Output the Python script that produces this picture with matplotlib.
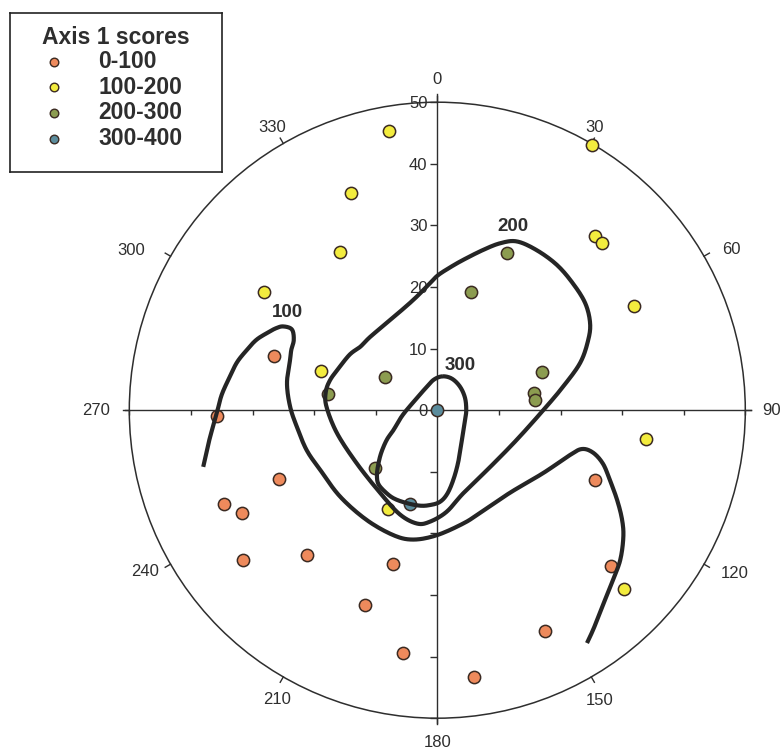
import numpy as np
import matplotlib
matplotlib.use('Agg')
import matplotlib.pyplot as plt
from matplotlib.patches import Circle

plt.rcParams['font.family'] = ['Liberation Sans', 'DejaVu Sans']

# ---------------- data ----------------
categories = ['0-100', '100-200', '200-300', '300-400']
legend_title = 'Axis 1 scores'
colors = ['#ee8a5c', '#f3ec3e', '#8c9c50', '#5b8c9c']

# polar coordinates: angle (degrees, clockwise from north), radius
theta_0_100 = [268.4, 288.4, 246.4, 246.3, 242.2, 232.3, 222.0, 200.3, 196.0, 188.1,
               172.2, 154.0, 113.9, 131.9]
r_0_100 = [35.8, 28.0, 28.0, 37.8, 35.8, 39.8, 31.7, 33.8, 25.9, 39.8,
           43.7, 39.8, 28.0, 37.9]
theta_100_200 = [350.2, 338.3, 328.3, 304.3, 288.6, 206.6, 30.2, 42.2, 44.5, 62.2, 97.9, 133.8]
r_100_200 = [46.0, 38.0, 30.1, 34.0, 20.0, 18.0, 49.8, 38.1, 38.1, 36.1, 34.2, 41.9]
theta_200_300 = [23.8, 15.9, 302.6, 278.4, 69.8, 79.7, 84.0, 227.0]
r_200_300 = [27.9, 20.0, 10.1, 18.0, 18.1, 16.0, 15.9, 13.8]
theta_300_400 = [0.0, 196.3]
r_300_400 = [0.0, 15.8]

groups_theta = [theta_0_100, theta_100_200, theta_200_300, theta_300_400]
groups_r = [r_0_100, r_100_200, r_200_300, r_300_400]

# contour lines (x = east, y = north, in radius units)
c100_x = [-38.0, -37.0, -35.8, -35.0, -33.7, -32.5, -30.9, -29.4, -27.7, -26.2, -25.0, -23.6,
          -23.3, -23.7, -23.9, -24.4, -23.9, -22.8, -21.2, -19.0, -15.8, -11.5, -7.1, -3.9,
          -0.1, 4.2, 6.9, 11.8, 17.2, 21.5, 23.5, 25.3, 26.9, 28.0, 29.2, 30.0, 30.2, 29.7,
          28.5, 26.9, 25.4, 24.3]
c100_y = [-9.2, -4.8, -0.5, 2.5, 5.4, 7.8, 9.8, 11.4, 12.5, 13.3, 13.6, 13.1,
          11.4, 9.8, 8.2, 4.4, 0.6, -2.7, -6.5, -9.7, -14.0, -17.8, -20.3, -21.0,
          -20.3, -18.4, -16.7, -13.4, -10.2, -7.3, -6.3, -6.9, -8.7, -11.3, -14.6, -17.8, -20.6, -24.3,
          -27.6, -31.6, -35.4, -37.8]
c200_x = [0.1, 2.1, 4.2, 7.4, 10.2, 12.9, 16.1, 19.4, 22.0, 24.0, 24.8, 24.5, 23.2, 20.4,
          17.2, 12.9, 8.6, 4.2, 1.5, -1.2, -3.3, -6.1, -9.3, -13.1, -16.3, -18.0, -18.1,
          -17.4, -16.1, -14.7, -13.8, -12.5, -10.9, -7.7, -3.9, -1.2, 0.1]
c200_y = [21.9, 23.2, 24.4, 26.0, 27.1, 27.4, 26.0, 23.6, 20.6, 17.4, 14.2, 11.4, 7.7, 3.8,
          0.0, -4.8, -9.2, -13.5, -16.5, -18.1, -18.4, -16.9, -13.4, -8.6, -3.7, 0.6, 3.0,
          4.9, 6.7, 8.5, 9.4, 10.3, 11.9, 14.6, 17.9, 20.6, 21.9]
c300_x = [0.9, 2.4, 3.7, 4.5, 4.7, 4.5, 4.0, 3.4, 2.6, 1.6, 0.4, -1.2, -2.8, -4.9, -6.9,
          -8.2, -9.5, -9.8, -9.6, -9.1, -8.2, -7.1, -5.7, -3.9, -1.7, -0.5, 0.9]
c300_y = [5.5, 5.1, 3.8, 2.0, 0.0, -1.6, -4.8, -8.4, -11.3, -13.6, -14.9, -15.4, -15.5, -15.1,
          -14.4, -13.5, -12.1, -10.7, -8.9, -6.9, -4.8, -3.2, -0.9, 1.3, 3.8, 5.0, 5.5]
contour_labels = ['100', '200', '300']
contour_label_x = [-24.4, 12.3, 3.7]
contour_label_y = [15.8, 29.9, 7.3]

radial_ticks = [-50, -40, -30, -20, -10, 0, 10, 20, 30, 40, 50]
angle_ticks = [0, 30, 60, 90, 120, 150, 180, 210, 240, 270, 300, 330]
# where each angle label sits (layout)
angle_label_dir = [0, 29.1, 61.4, 90, 118.8, 150.7, 180, 209.0, 241.1, 270, 297.6, 329.7]
angle_label_rad = [53.7, 52.6, 54.4, 54.3, 55.1, 54.0, 54.0, 53.7, 54.1, 55.4, 56.1, 53.2]


def smooth_path(xs, ys, closed, n=14):
    """Catmull-Rom rendering of a traced path (drawing only)."""
    P = np.column_stack([xs, ys]).astype(float)
    if closed:
        P = P[:-1]
        Q = np.vstack([P[-1:], P, P[:2]])
        nseg = len(P)
    else:
        Q = np.vstack([P[:1], P, P[-1:]])
        nseg = len(P) - 1
    t = np.linspace(0, 1, n, endpoint=False)[:, None]
    out = []
    for i in range(nseg):
        p0, p1, p2, p3 = Q[i], Q[i + 1], Q[i + 2], Q[i + 3]
        seg = 0.5 * (2 * p1 + (-p0 + p2) * t + (2 * p0 - 5 * p1 + 4 * p2 - p3) * t ** 2
                     + (-p0 + 3 * p1 - 3 * p2 + p3) * t ** 3)
        out.append(seg)
    out.append(Q[nseg + 1][None, :])
    out = np.vstack(out)
    return out[:, 0], out[:, 1]


# ---------------- figure ----------------
W, H = 783, 750
fig = plt.figure(figsize=(W / 100, H / 100), dpi=100)
fig.patch.set_facecolor('white')

cx, cy, scale = 437.3, 410.2, 6.16  # layout of the plot area in pixels
lim = 55
ax = fig.add_axes([(cx - lim * scale) / W, (H - cy - lim * scale) / H,
                   2 * lim * scale / W, 2 * lim * scale / H])
ax.set_xlim(-lim, lim)
ax.set_ylim(-lim, lim)

ink = '#2e2e2e'
for s in ['top', 'right']:
    ax.spines[s].set_visible(False)
ax.spines['left'].set_position(('data', 0))
ax.spines['bottom'].set_position(('data', 0))
ax.spines['left'].set_bounds(-50.8, 51.3)
ax.spines['bottom'].set_bounds(-50.7, 51.0)
for s in ['left', 'bottom']:
    ax.spines[s].set_color(ink)
    ax.spines[s].set_linewidth(1.0)

ax.set_yticks(radial_ticks)
ax.set_yticklabels([str(v) if v >= 0 else '' for v in radial_ticks])
ax.set_xticks([v for v in radial_ticks if v != 0])
ax.set_xticklabels([])
ax.tick_params(axis='y', direction='out', length=5, width=1.0, color=ink,
               labelsize=12, labelcolor=ink, pad=2)
ax.tick_params(axis='x', direction='out', length=3.5, width=1.0, color=ink)

# outer circle
ax.add_patch(Circle((0, 0), 50, fill=False, lw=1.1, ec=ink, zorder=2))
for a, ad, ar in zip(angle_ticks, angle_label_dir, angle_label_rad):
    t = np.deg2rad(a)
    ax.plot([50 * np.sin(t), 51 * np.sin(t)], [50 * np.cos(t), 51 * np.cos(t)],
            color=ink, lw=1.0, zorder=2)
    tl = np.deg2rad(ad)
    ax.text(ar * np.sin(tl), ar * np.cos(tl), str(a), ha='center', va='center',
            fontsize=12, color=ink)

# points
for th, rr, col in zip(groups_theta, groups_r, colors):
    t = np.deg2rad(np.array(th))
    rr = np.array(rr)
    ax.scatter(rr * np.sin(t), rr * np.cos(t), s=78, c=col, edgecolors='#3b2a22',
               linewidths=1.1, zorder=3)

# contours
for xs, ys, closed in [(c100_x, c100_y, False), (c200_x, c200_y, True), (c300_x, c300_y, True)]:
    sx, sy = smooth_path(xs, ys, closed)
    ax.plot(sx, sy, color='#252525', lw=3.0, zorder=4,
            solid_joinstyle='round', solid_capstyle='butt')
for lab, lx, ly in zip(contour_labels, contour_label_x, contour_label_y):
    ax.text(lx, ly, lab, ha='center', va='center', fontsize=13.5,
            fontweight='bold', color=ink, zorder=5)

# legend box (manual)
lx0, ly0, lw_, lh_ = 10, 13, 212, 159
lax = fig.add_axes([lx0 / W, (H - ly0 - lh_) / H, lw_ / W, lh_ / H])
lax.set_xlim(0, lw_)
lax.set_ylim(lh_, 0)
lax.set_xticks([])
lax.set_yticks([])
for s in lax.spines.values():
    s.set_color('#222222')
    s.set_linewidth(1.2)
lax.text(32, 24, legend_title, ha='left', va='center', fontsize=16.5,
         fontweight='bold', color=ink)
for i, (cat, col) in enumerate(zip(categories, colors)):
    yy = 48.5 + 25.7 * i
    lax.scatter([44], [yy], s=38, c=col, edgecolors='#3b2a22', linewidths=1.0)
    lax.text(88, yy, cat, ha='left', va='center', fontsize=16.5,
             fontweight='bold', color=ink)

fig.savefig('out.png', dpi=100)
